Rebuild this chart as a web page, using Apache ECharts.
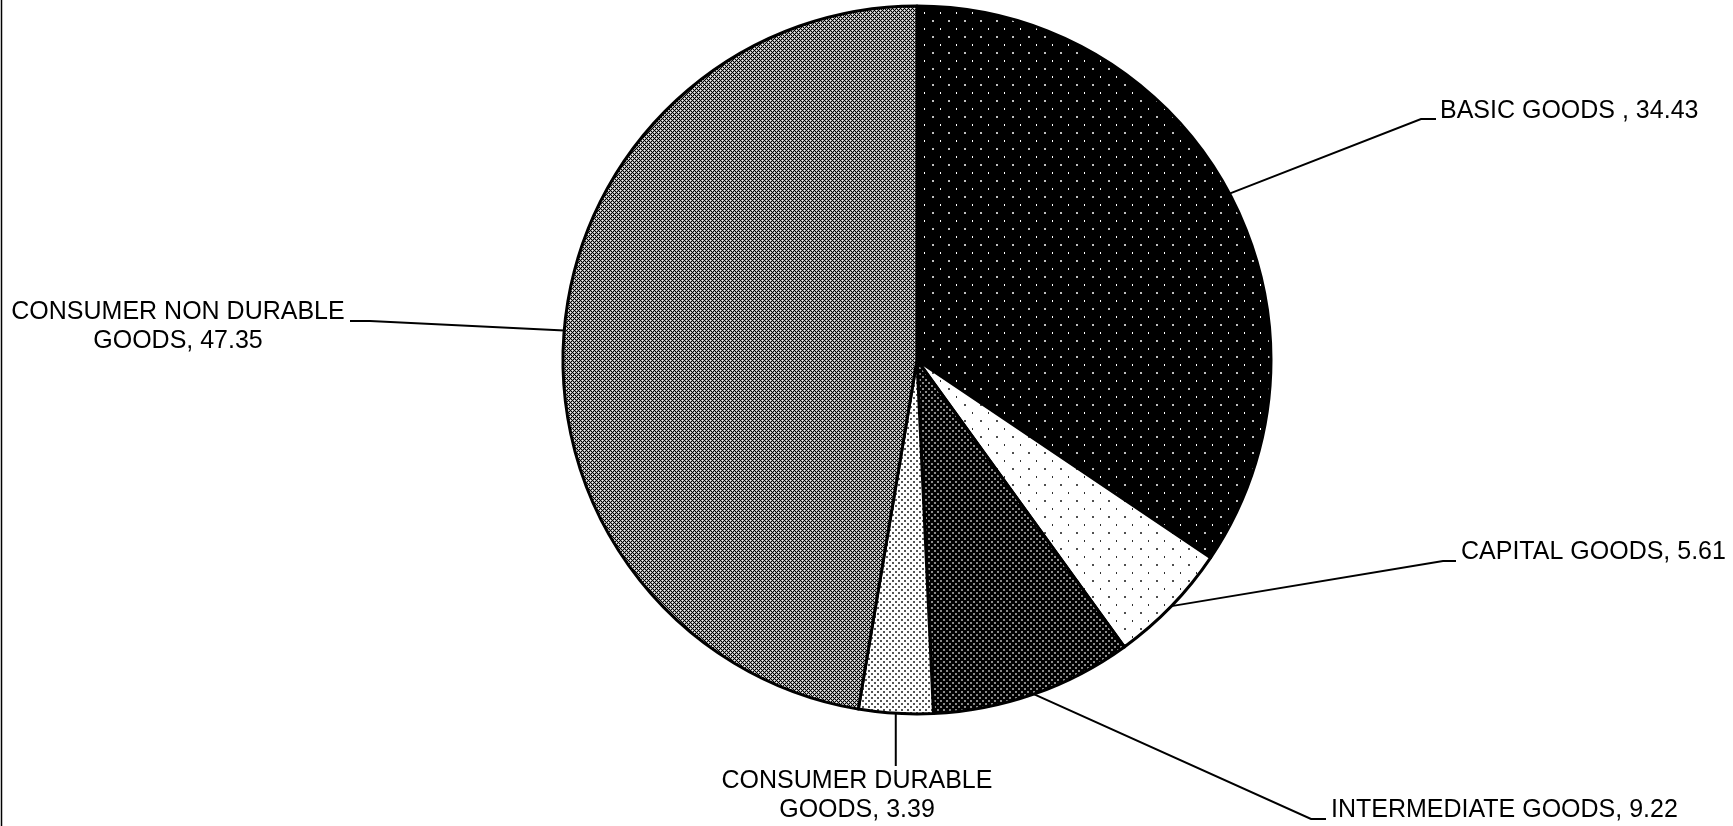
<!DOCTYPE html>
<html>
<head>
<meta charset="utf-8">
<script src="https://cdn.jsdelivr.net/npm/echarts@6/dist/echarts.min.js"></script>
<style>
html,body{margin:0;padding:0;background:#fff;}
#chart{width:1733px;height:826px;}
</style>
</head>
<body>
<div id="chart"></div>
<script>
// ---- data ----
const categories = ['BASIC GOODS ', 'CAPITAL GOODS', 'INTERMEDIATE GOODS', 'CONSUMER DURABLE GOODS', 'CONSUMER NON DURABLE GOODS'];
const values = [34.43, 5.61, 9.22, 3.39, 47.35];

// ---- style helpers ----
function tile(w, h, bg, dots, fn) {
  const c = document.createElement('canvas');
  c.width = w; c.height = h;
  const g = c.getContext('2d');
  g.fillStyle = bg; g.fillRect(0, 0, w, h);
  (dots || []).forEach(d => { g.fillStyle = d[4]; g.fillRect(d[0], d[1], d[2], d[3]); });
  if (fn) fn(g, w, h);
  return c;
}
const patBasic = tile(16, 16, '#000', [[4, 4, 2, 2, '#c0c0c0'], [12, 12, 1, 2, '#ffffff']]);
const patCapital = tile(16, 16, '#fff', [[4, 4, 2, 2, '#505050'], [12, 12, 1, 2, '#303030']]);
const patInter = tile(6, 6, '#000', [[1, 1, 2, 2, '#8a8a8a'], [4, 4, 2, 2, '#8a8a8a']]);
const patDurable = tile(6, 6, '#fff', [[1, 1, 2, 2, '#555'], [4, 4, 2, 2, '#555']]);
const patNonDur = tile(8, 8, '#a8a8a8', [], function (g, w, h) {
  for (let y = 0; y < h; y++) for (let x = 0; x < w; x++) {
    const a = (x + y) % 4, b = (x - y + 8) % 4;
    if (a === 0 || b === 0) { g.fillStyle = '#000'; g.fillRect(x, y, 1, 1); }
    else if (a === 2 && b === 2) { g.fillStyle = '#f0f0f0'; g.fillRect(x, y, 1, 1); }
  }
});
const patterns = [patBasic, patCapital, patInter, patDurable, patNonDur];

// label placement (layout/style only)
const labelPlacement = [
  { x: 1440, y: 111, align: 'left', elbow: [1421, 119], end: [1436, 119] },
  { x: 1461, y: 552, align: 'left', elbow: [1443, 561], end: [1456, 561] },
  { x: 1331, y: 810, align: 'left', elbow: [1311, 819], end: [1326, 819] },
  { x: 857, y: 796, align: 'center', drop: 766 },
  { x: 178, y: 327, align: 'center', elbow: [370, 321], end: [350, 321] }
];

const chart = echarts.init(document.getElementById('chart'), null, { renderer: 'canvas' });
chart.setOption({
  animation: false,
  backgroundColor: '#fff',
  graphic: [{
    type: 'line', silent: true,
    shape: { x1: 1.5, y1: 0, x2: 1.5, y2: 826 },
    style: { stroke: '#000', lineWidth: 1.5 }
  }],
  series: [{
    type: 'pie',
    silent: true,
    center: [917, 360],
    radius: 354,
    startAngle: 90,
    clockwise: true,
    avoidLabelOverlap: false,
    itemStyle: { borderColor: '#000', borderWidth: 3 },
    emphasis: { disabled: true },
    label: {
      show: true,
      position: 'outside',
      color: '#000',
      fontFamily: "'Liberation Sans', Arial, sans-serif",
      fontSize: 25,
      lineHeight: 29,
      width: 460,
      overflow: 'none',
      formatter: function (p) {
        const name = p.name.replace(/^(CONSUMER .*) GOODS$/, '$1\nGOODS');
        return name + ', ' + p.value;
      }
    },
    labelLine: {
      show: true, length: 10, length2: 10, smooth: false,
      lineStyle: { color: '#000', width: 2 }
    },
    labelLayout: function (params) {
      const L = labelPlacement[params.dataIndex];
      const p0 = params.labelLinePoints ? params.labelLinePoints[0] : [params.rect.x + params.rect.width / 2, params.rect.y + params.rect.height];
      const pts = L.elbow ? [p0, L.elbow, L.end] : [p0, [p0[0], L.drop], [p0[0], L.drop]];
      return { x: L.x, y: L.y, align: L.align, verticalAlign: 'middle', labelLinePoints: pts };
    },
    data: categories.map((c, i) => ({
      name: c,
      value: values[i],
      itemStyle: { color: { image: patterns[i], repeat: 'repeat' } }
    }))
  }]
});
</script>
</body>
</html>
